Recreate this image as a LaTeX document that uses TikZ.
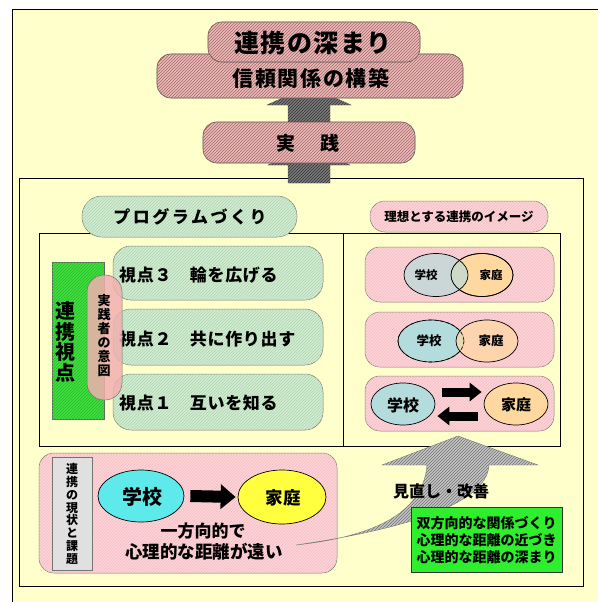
\documentclass[tikz,border=0pt]{standalone}
\usepackage{fontspec}
\setmainfont{Noto Sans CJK JP}
\usetikzlibrary{patterns,arrows.meta,shapes.geometric}
\definecolor{bgyellow}{HTML}{FFFFCC}
\definecolor{toppink}{HTML}{E6BCBC}
\definecolor{toppinkline}{HTML}{B06464}
\definecolor{arrowgray}{HTML}{7A7A7A}
\definecolor{lightgray}{HTML}{C4C4C4}
\definecolor{softgreen}{HTML}{D2EED2}
\definecolor{softgreenline}{HTML}{B0D4B0}
\definecolor{softpink}{HTML}{FFD4D8}
\definecolor{softpinkline}{HTML}{F0BCC2}
\definecolor{midpink}{HTML}{F2B0B0}
\definecolor{strongreen}{HTML}{3CE03C}
\definecolor{strongreenline}{HTML}{30B830}
\definecolor{boxgreen}{HTML}{2EEE2E}
\definecolor{teal}{HTML}{B4DCDC}
\definecolor{orange}{HTML}{FFD8A0}
\definecolor{cyanfill}{HTML}{5EEAEA}
\definecolor{yellowfill}{HTML}{FFFF40}
\definecolor{labelgray}{HTML}{E0E0E0}
\newcommand\jfs[1]{\fontsize{#1}{#1}\selectfont}
\begin{document}
\begin{tikzpicture}[x=1pt,y=-1pt,
  hatch/.style={postaction={pattern=north east lines,pattern color=#1}},
  topbox/.style={draw=black!70,fill=toppink,hatch=toppinkline,rounded corners=14pt,line width=0.6pt,inner sep=0pt},
  greenbox/.style={draw=black!55,fill=softgreen,hatch=softgreenline,line width=0.5pt,inner sep=0pt},
  pinkbox/.style={draw=black!55,fill=softpink,hatch=softpinkline,line width=0.5pt,inner sep=0pt},
  blockarrow/.style={fill=arrowgray,hatch=black!80,draw=black!60,line width=0.4pt},
  curvearrow/.style={fill=lightgray,hatch=black!55,draw=black!50,line width=0.4pt},
  frameline/.style={draw=black,line width=0.7pt},
  txt/.style={inner sep=0pt,font=\bfseries},
  vtxt/.style={inner sep=0pt,align=center},
  ell/.style={ellipse,draw=black,line width=0.7pt,inner sep=0pt},
  smallarrow/.style={line width=9pt,-{Triangle[length=12pt,width=18pt]}},
]
\useasboundingbox (0,0) rectangle (597,602);
\fill[white] (0,0) rectangle (597,602);
\draw[fill=bgyellow,line width=0.8pt] (12,9) rectangle (620,620);

% middle frame
\draw[frameline] (19,178) rectangle (583,586);

% top arrows
\draw[blockarrow] (288,125) -- (288,105) -- (267,105) -- (309,86) -- (351,105) -- (330,105) -- (330,125) -- cycle;
\draw[blockarrow] (288,183) -- (288,165) -- (268,165) -- (309,146) -- (350,165) -- (330,165) -- (330,183) -- cycle;

% top boxes
\node[topbox,minimum width=306pt,minimum height=44pt] (trust) at (310,76) {};
\node[txt,font=\bfseries\jfs{21}\addfontfeature{LetterSpace=8}] (trustT) at (311,78) {信頼関係の構築};
\node[topbox,minimum width=212pt,minimum height=40pt] (deep) at (314,42) {};
\node[txt,font=\bfseries\jfs{25}\addfontfeature{LetterSpace=6}] (deepT) at (313,43) {連携の深まり};
\node[topbox,minimum width=212pt,minimum height=41pt] (prac) at (309,142.5) {};
\node[txt,font=\bfseries\jfs{19}] (pracT) at (308,143) {実\hspace{25pt}践};

% inner frame
\draw[frameline,line width=0.6pt] (39,233) rectangle (560,446);
\draw[frameline,line width=0.6pt] (343,233) -- (343,446);

% headings
\node[greenbox,rounded corners=20pt,minimum width=215pt,minimum height=41pt] (prog) at (189.5,216.5) {};
\node[txt,font=\bfseries\jfs{17}\addfontfeature{LetterSpace=15}] (progT) at (190,217) {プログラムづくり};
\node[pinkbox,rounded corners=15pt,minimum width=178pt,minimum height=31pt] (ideal) at (459,216.5) {};
\node[txt,font=\bfseries\jfs{12.5}] (idealT) at (459,217) {理想とする連携のイメージ};

% viewpoint boxes
\node[greenbox,rounded corners=18pt,minimum width=210pt,minimum height=54pt] (v3) at (218,273) {};
\node[greenbox,rounded corners=18pt,minimum width=210pt,minimum height=56pt] (v2) at (218,337) {};
\node[greenbox,rounded corners=18pt,minimum width=210pt,minimum height=56pt] (v1) at (218,402) {};
\node[txt,anchor=west,font=\bfseries\jfs{17}\addfontfeature{LetterSpace=4}] (v3T) at (119,275) {視点３　輪を広げる};
\node[txt,anchor=west,font=\bfseries\jfs{17}\addfontfeature{LetterSpace=4}] (v2T) at (119,339) {視点２　共に作り出す};
\node[txt,anchor=west,font=\bfseries\jfs{17}\addfontfeature{LetterSpace=4}] (v1T) at (119,403) {視点１　互いを知る};

\draw[draw=black!60,fill=strongreen,hatch=strongreenline,line width=0.5pt] (52,262) rectangle (104,419);
\node[vtxt,font=\bfseries\fontsize{20}{20.5}\selectfont] (renkei) at (65,342) {連\\携\\視\\点};
\node[draw=black!55,fill=midpink,fill opacity=0.85,rounded corners=17pt,minimum width=35pt,minimum height=125pt,inner sep=0pt,line width=0.5pt] (intent) at (104.5,337.5) {};
\node[vtxt,font=\bfseries\fontsize{13}{14}\selectfont] (intentT) at (104,336) {実\\践\\者\\の\\意\\図};

% right image boxes
\node[pinkbox,rounded corners=15pt,minimum width=189pt,minimum height=55pt] (r1) at (459.5,274.5) {};
\node[pinkbox,rounded corners=15pt,minimum width=189pt,minimum height=55pt] (r2) at (459.5,339.5) {};
\node[pinkbox,rounded corners=15pt,minimum width=189pt,minimum height=55pt] (r3) at (459.5,403.5) {};

\node[ell,fill=orange,minimum width=62pt,minimum height=43pt] (h1) at (482,275) {};
\node[ell,fill=teal,fill opacity=0.65,minimum width=64pt,minimum height=43pt] (s1) at (436,275) {};
\draw[line width=0.7pt] (482,275) ellipse (31 and 21.5);
\node[txt,font=\bfseries\jfs{11.5}] (s1T) at (426,275) {学校};
\node[txt,font=\bfseries\jfs{11.5}] (h1T) at (491,275) {家庭};

\node[ell,fill=teal,minimum width=66pt,minimum height=42pt] (s2) at (431,341) {};
\node[ell,fill=orange,fill opacity=0.7,minimum width=62pt,minimum height=42pt] (h2) at (487,341) {};
\draw[line width=0.6pt,dashed] (431,341) ellipse (33 and 21);
\node[txt,font=\bfseries\jfs{12.5}] (s2T) at (429,341) {学校};
\node[txt,font=\bfseries\jfs{12.5}] (h2T) at (491,341) {家庭};

\node[ell,fill=teal,minimum width=64pt,minimum height=42pt] (s3) at (403,404) {};
\node[ell,fill=orange,minimum width=64pt,minimum height=42pt] (h3) at (516,404) {};
\node[txt,font=\bfseries\jfs{16}] (s3T) at (403,405) {学校};
\node[txt,font=\bfseries\jfs{15}] (h3T) at (516,405) {家庭};
\draw[smallarrow] ([xshift=7pt,yshift=12pt]s3.east) -- ([xshift=-2pt,yshift=12pt]h3.west);
\draw[smallarrow] ([xshift=-6pt,yshift=-12pt]h3.west) -- ([xshift=2pt,yshift=-12pt]s3.east);

% bottom current state box
\draw[draw=black!55,fill=softpink,hatch=softpinkline,line width=0.5pt,rounded corners=15pt] (39,453) rectangle (337,573);
\draw[draw=black!55,fill=labelgray,line width=0.5pt] (52,457) rectangle (92,570);
\node[vtxt,font=\bfseries\fontsize{12}{12.9}\selectfont] (labelT) at (72,514) {連\\携\\の\\現\\状\\と\\課\\題};
\node[ell,fill=cyanfill,minimum width=86pt,minimum height=52pt] (s0) at (141,496) {};
\node[ell,fill=yellowfill,minimum width=88pt,minimum height=54pt] (h0) at (282,497) {};
\node[txt,font=\bfseries\jfs{20}] (s0T) at (142,497) {学校};
\node[txt,font=\bfseries\jfs{17.5}] (h0T) at (283,498) {家庭};
\draw[line width=12pt,-{Triangle[length=15pt,width=24pt]}] ([xshift=6pt]s0.east) -- ([xshift=-2pt]h0.west);
\node[txt,font=\bfseries\jfs{17}] (oneway) at (203,531) {一方向的で};
\node[txt,font=\bfseries\jfs{17.5}] (far) at (204,552) {心理的な距離が遠い};

% curved improvement arrow
\draw[curvearrow] (382,465) -- (458,436) -- (538,465) -- (489,465)
  .. controls (487,505) and (400,530) .. (296,545)
  .. controls (370,537) and (423,515) .. (427,465) -- cycle;
\node[txt,font=\bfseries\jfs{16}] (review) at (441,491) {見直し・改善};

\node[draw=black!80,fill=boxgreen,line width=0.6pt,minimum width=151pt,minimum height=65pt,inner sep=0pt] (goal) at (486.5,539.5) {};
\node[txt,align=left,font=\bfseries\fontsize{14}{17}\selectfont] (goalT) at (486.5,540) {双方向的な関係づくり\\心理的な距離の近づき\\心理的な距離の深まり};
\end{tikzpicture}
\end{document}
